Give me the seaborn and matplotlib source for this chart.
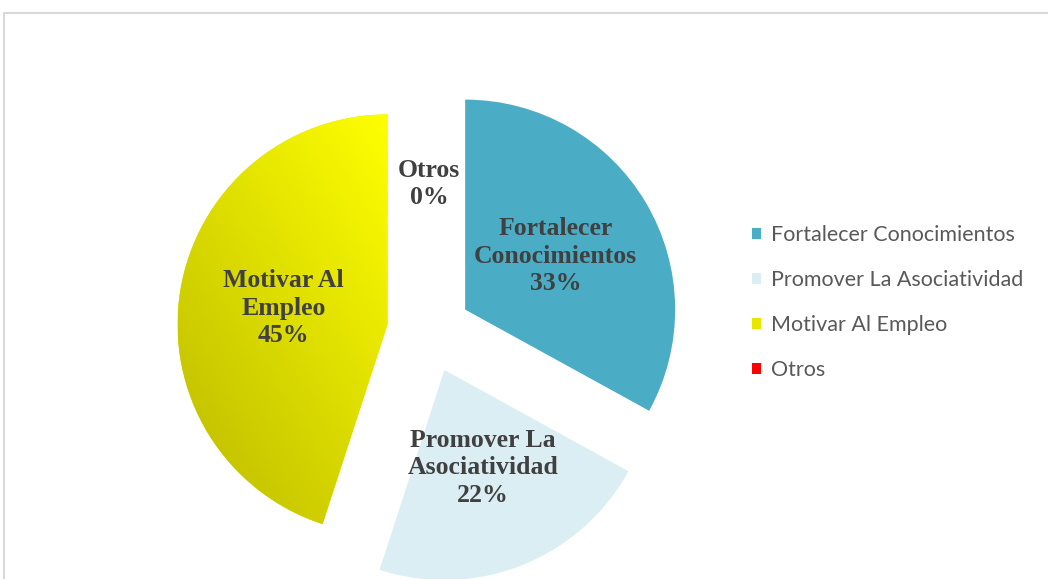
import numpy as np
import matplotlib
matplotlib.use("Agg")
import matplotlib.pyplot as plt
import seaborn as sns
from matplotlib.lines import Line2D
from matplotlib.colors import LinearSegmentedColormap

categories = ["Fortalecer Conocimientos", "Promover La Asociatividad", "Motivar Al Empleo", "Otros"]
label_lines = ["Fortalecer\nConocimientos", "Promover La\nAsociatividad", "Motivar Al\nEmpleo", "Otros"]
values = [33, 22, 45, 0]
colors = ["#4BACC6", "#DAEEF3", "#E6E600", "#FF0000"]

sns.set_theme(style="white")

W, H = 1048, 579
fig = plt.figure(figsize=(W / 100, H / 100), dpi=100)
fig.patch.set_facecolor("white")
ax = fig.add_axes([0, 0, 1, 1])

total = sum(values)
labels = [f"{l}\n{v / total * 100:.0f}%" for l, v in zip(label_lines, values)]
R = 210
center = (429, H - 331)
wedges, texts = ax.pie(values, colors=colors, startangle=90, counterclock=False,
                       explode=[42] * len(values), radius=R, center=center,
                       labels=labels, labeldistance=0.5,
                       wedgeprops=dict(linewidth=0))

# gradient fill for the yellow slice
yw = wedges[2]
bb = yw.get_path().get_extents(yw.get_patch_transform())
nx, ny = 200, 200
u = np.linspace(0, 1, nx)[None, :]
v = np.linspace(0, 1, ny)[:, None]
grad = (u * 0.45 + v * 0.55)
cmap = LinearSegmentedColormap.from_list("yel", ["#BAB900", "#DCDC00", "#FFFF00"])
im = ax.imshow(grad, extent=[bb.x0, bb.x1, bb.y0, bb.y1], origin="lower",
               cmap=cmap, zorder=yw.get_zorder() + 0.1, aspect="auto")
im.set_clip_path(yw)

for t in texts:
    t.set_ha("center")
    t.set_va("center")
    t.set_fontfamily("Liberation Serif")
    t.set_fontweight("bold")
    t.set_fontsize(18.5)
    t.set_color("#404040")
    t.set_linespacing(1.25)
    t.set_zorder(5)

ax.set_xlim(0, W)
ax.set_ylim(0, H)
ax.set_aspect("equal")
ax.axis("off")

# chart frame
fig.add_artist(Line2D([4 / W, 1], [566 / H, 566 / H], transform=fig.transFigure,
                      color="#D9D9D9", lw=1.5))
fig.add_artist(Line2D([4 / W, 4 / W], [566 / H, 0], transform=fig.transFigure,
                      color="#D9D9D9", lw=1.5))

leg = fig.legend(wedges, categories, loc="upper left",
                 bbox_to_anchor=(752 / W, (H - 225) / H), frameon=False,
                 prop=dict(family="Lato", size=15.5), handlelength=0.4,
                 handleheight=0.4, handletextpad=0.47, labelspacing=1.16,
                 borderpad=0, borderaxespad=0)
for t in leg.get_texts():
    t.set_color("#595959")

fig.savefig("out.png", dpi=100, facecolor="white")
